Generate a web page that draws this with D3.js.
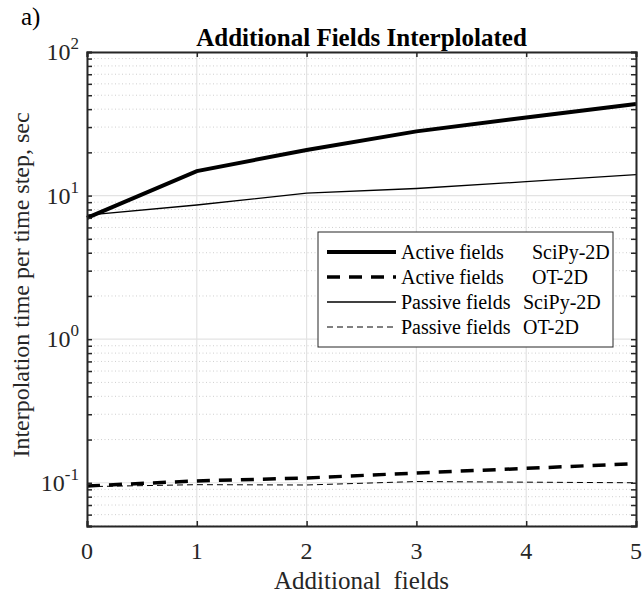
<!DOCTYPE html>
<html><head><meta charset="utf-8">
<script src="https://cdn.jsdelivr.net/npm/d3@7"></script>
<style>body{margin:0;background:#fff}svg{display:block}text{font-family:"Liberation Serif","Times New Roman",serif}</style>
</head><body>
<script>
const xValues = [0, 1, 2, 3, 4, 5];
const activeSciPy = [7.0, 14.8, 20.8, 28.0, 35.0, 43.5];
const activeOT = [0.095, 0.103, 0.108, 0.117, 0.126, 0.136];
const passiveSciPy = [7.3, 8.6, 10.4, 11.2, 12.5, 14.0];
const passiveOT = [0.094, 0.097, 0.0965, 0.102, 0.101, 0.100];
const xTicks = [0, 1, 2, 3, 4, 5];
const yDecades = [-1, 0, 1, 2];
const legendNames = ["Active fields", "Active fields", "Passive fields", "Passive fields"];
const legendMethods = ["SciPy-2D", "OT-2D", "SciPy-2D", "OT-2D"];

const W = 644, H = 596;
const m = {l: 87, r: 8, t: 52, b: 70};
const svg = d3.select("body").append("svg").attr("width", W).attr("height", H);
const x = d3.scaleLinear().domain([0, 5]).range([m.l, W - m.r]);
const y = d3.scaleLog().domain([0.05, 100]).range([H - m.b, m.t]);
const pw = W - m.r - m.l;

// minor grid
const minors = [];
for (let e = -2; e <= 1; e++) for (let k = 2; k <= 9; k++) { const v = k * Math.pow(10, e); if (v >= 0.05 && v < 100) minors.push(v); }
svg.append("g").selectAll("line").data(minors).join("line")
  .attr("x1", m.l).attr("x2", W - m.r).attr("y1", d => y(d)).attr("y2", d => y(d))
  .attr("stroke", "#cfcfcf").attr("stroke-width", 1).attr("stroke-dasharray", "1,2.5");
// major grid
svg.append("g").selectAll("line").data(yDecades.map(e => Math.pow(10, e))).join("line")
  .attr("x1", m.l).attr("x2", W - m.r).attr("y1", d => y(d)).attr("y2", d => y(d))
  .attr("stroke", "#e3e3e3").attr("stroke-width", 1.2);
svg.append("g").selectAll("line").data(xTicks).join("line")
  .attr("x1", d => x(d)).attr("x2", d => x(d)).attr("y1", m.t).attr("y2", H - m.b)
  .attr("stroke", "#e3e3e3").attr("stroke-width", 1.2);

// lines
const line = d3.line().x((d, i) => x(xValues[i])).y(d => y(d));
const series = [
  {data: activeSciPy, w: 4, dash: null},
  {data: activeOT, w: 3.5, dash: "13,9"},
  {data: passiveSciPy, w: 1.3, dash: null},
  {data: passiveOT, w: 1, dash: "6,4"}
];
svg.append("g").selectAll("path").data(series).join("path")
  .attr("d", d => line(d.data)).attr("fill", "none").attr("stroke", "#000")
  .attr("stroke-width", d => d.w).attr("stroke-dasharray", d => d.dash);

// axes
const ac = "#262626";
const allY = minors.concat(yDecades.map(e => Math.pow(10, e)));
const axL = d3.axisLeft(y).tickValues(allY).tickSize(-5).tickFormat("");
const axR = d3.axisRight(y).tickValues(allY).tickSize(-5).tickFormat("");
const axB = d3.axisBottom(x).tickValues(xTicks).tickSize(-5).tickFormat("");
const axT = d3.axisTop(x).tickValues(xTicks).tickSize(-5).tickFormat("");
[[axL, `translate(${m.l},0)`], [axR, `translate(${W - m.r},0)`], [axB, `translate(0,${H - m.b})`], [axT, `translate(0,${m.t})`]].forEach(([a, t]) => {
  const g = svg.append("g").attr("transform", t).call(a);
  g.selectAll("path").attr("stroke", ac).attr("stroke-width", 2);
  g.selectAll("line").attr("stroke", ac).attr("stroke-width", 1.5);
});

// y tick labels
const yl = svg.append("g").selectAll("text").data(yDecades).join("text")
  .attr("x", m.l - 8).attr("y", d => y(Math.pow(10, d)) + 8).attr("text-anchor", "end")
  .attr("font-size", 24).attr("fill", "#262626");
yl.append("tspan").text("10");
yl.append("tspan").attr("dy", -11).attr("font-size", 17).text(d => d);

// x tick labels
svg.append("g").selectAll("text").data(xTicks).join("text")
  .attr("x", d => x(d)).attr("y", H - m.b + 33).attr("text-anchor", "middle")
  .attr("font-size", 24).attr("fill", "#262626").text(d => d);

svg.append("text").attr("x", m.l + pw / 2).attr("y", 589).attr("text-anchor", "middle")
  .attr("font-size", 25).attr("fill", "#262626").attr("xml:space", "preserve").text("Additional  fields");
svg.append("text").attr("transform", `translate(29,${(m.t + H - m.b) / 2 - 4}) rotate(-90)`)
  .attr("text-anchor", "middle").attr("font-size", 24).attr("fill", "#262626")
  .text("Interpolation time per time step, sec");
svg.append("text").attr("x", m.l + pw / 2).attr("y", 46).attr("text-anchor", "middle")
  .attr("font-size", 25).attr("font-weight", "bold").attr("fill", "#000").text("Additional Fields Interplolated");
svg.append("text").attr("x", 21).attr("y", 25).attr("font-size", 25).attr("fill", "#000").text("a)");

// legend
const lg = svg.append("g");
lg.append("rect").attr("x", 318).attr("y", 232).attr("width", 295).attr("height", 115)
  .attr("fill", "#fff").attr("stroke", "#262626").attr("stroke-width", 1);
const rows = lg.selectAll("g").data(series).join("g").attr("transform", (d, i) => `translate(0,${252 + i * 25})`);
rows.append("line").attr("x1", 327).attr("x2", 396).attr("y1", 0).attr("y2", 0)
  .attr("stroke", "#000").attr("stroke-width", d => d.w).attr("stroke-dasharray", d => d.dash);
rows.append("text").attr("x", 401).attr("y", 7).attr("font-size", 20).attr("fill", "#000").text((d, i) => legendNames[i]);
rows.append("text").attr("x", (d, i) => i < 2 ? 532 : 523).attr("y", 7).attr("font-size", 20).attr("fill", "#000").text((d, i) => legendMethods[i]);
</script>
</body></html>
